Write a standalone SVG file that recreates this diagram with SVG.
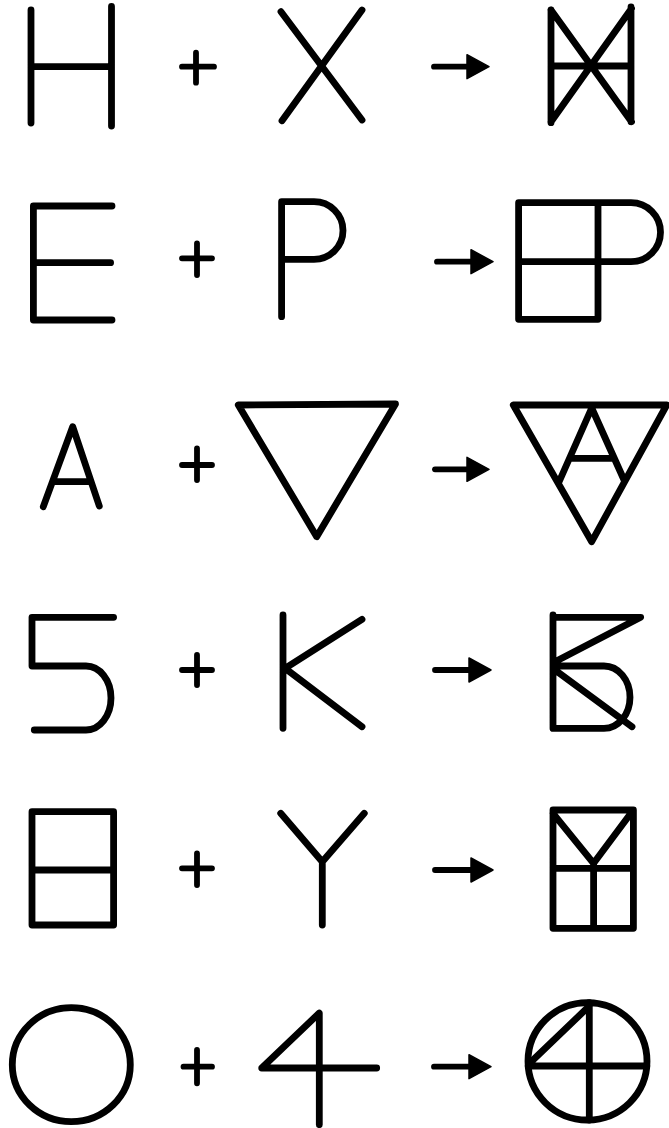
<svg xmlns="http://www.w3.org/2000/svg" width="669" height="1128" viewBox="0 0 669 1128">
<style>
.s{fill:none;stroke:#000;stroke-width:6.8;stroke-linecap:round;stroke-linejoin:round}
.p{fill:none;stroke:#000;stroke-width:5.8;stroke-linecap:round}
.a{fill:none;stroke:#000;stroke-width:5.8;stroke-linecap:round;marker-end:url(#ah)}
</style>
<defs>
<marker id="ah" markerUnits="userSpaceOnUse" markerWidth="24" markerHeight="26" refX="0" refY="12" orient="auto" overflow="visible">
<path d="M0,0 L22,12 L0,24 Z" fill="#000" stroke="#000" stroke-width="1.5" stroke-linejoin="round"/>
</marker>
</defs>
<rect width="669" height="1128" fill="#fff"/>

<g id="row1">
<g id="H"><path class="s" d="M31 10 V123 M111.5 6.5 V126 M31 66.7 H111.5"/></g>
<g id="plus1"><path class="p" d="M182 66.7 H214 M196 52.7 V82.7"/></g>
<g id="X"><path class="s" d="M281 11.7 L362 120 M362 10 L282 120.7"/></g>
<g id="HX"><path class="s" d="M551 10 V122.7 M631 7 V121.7 M551 66 H631 M551 10 L631.5 121.7 M631.5 8.5 L551 121.7"/></g>
</g>

<g id="row2">
<g id="E"><path class="s" d="M112 206 H33.4 V320 H112 M33.4 262.7 H110.6"/></g>
<g id="plus2"><path class="p" d="M182 258.3 H212 M197 243.3 V275"/></g>
<g id="P"><path class="s" d="M281.6 316.7 V201.7 H314 A29 28.8 0 0 1 314 259.3 H281.6"/></g>
<g id="EP"><path class="s" d="M518.6 202.7 H631 A29.5 29.5 0 0 1 631 261.7 H518.6 M518.6 202.7 V319.3 H598 V202.7"/></g>
</g>

<g id="row3">
<g id="A"><path class="s" d="M43.3 506.7 L72.7 426.7 L99.3 506 M53 481.7 H90"/></g>
<g id="plus3"><path class="p" d="M182 465 H212 M197 448.3 V480"/></g>
<g id="triangle"><path class="s" d="M238.3 405 L395.5 404 L316.7 536.7 Z"/></g>
<g id="A-triangle"><path class="s" d="M513.3 405 H666.7 L591.7 541.7 Z M559 482 L591.7 408 L624.5 481 M571 458.3 H612.5"/></g>
</g>

<g id="row4">
<g id="five"><path class="s" d="M113.6 617.3 H32 V666 H86 A25 32 0 0 1 86 730 H34.3"/></g>
<g id="plus4"><path class="p" d="M182 670 H212 M197 655 V685"/></g>
<g id="K"><path class="s" d="M283 615 V728.3 M362 619.3 L285 668.3 M286 669 L362 726.7"/></g>
<g id="five-K"><path class="s" d="M553 615 V728.3 M553 617.3 H640.7 L555 661.7 M553 666 H604 A26 31.2 0 0 1 604 728.4 H553 M555 670 L632 726.7"/></g>
</g>

<g id="row5">
<g id="box"><path class="s" d="M32 811.7 H113.6 V925 H32 Z M32 870 H113.6"/></g>
<g id="plus5"><path class="p" d="M182 868.3 H212 M197 853.3 V885"/></g>
<g id="Y"><path class="s" d="M280.7 813.3 L322.3 861.7 L364.3 813.3 M322.3 861.7 V925"/></g>
<g id="box-Y"><path class="s" d="M553 810 H633.4 V928.3 H553 Z M553 868.3 H633.4 M553 813.3 L593.6 863.3 L632 811.7 M593.6 863.3 V928.3"/></g>
</g>

<g id="row6">
<g id="O"><ellipse class="s" cx="71.3" cy="1064.7" rx="59" ry="57"/></g>
<g id="plus6"><path class="p" d="M183.5 1066.7 H212 M197 1050 V1083.3"/></g>
<g id="four"><path class="s" d="M376.7 1068 H261.7 L319.3 1013 V1124.7"/></g>
<g id="O-four"><ellipse class="s" cx="587.5" cy="1061.3" rx="59.5" ry="58.7"/><path class="s" d="M589.3 1002.6 V1120 M528.2 1066 H646.8 M531.7 1061.3 L589.3 1006"/></g>
</g>

<g id="connectors">
<line class="a" x1="434" y1="66.7" x2="467" y2="66.7"/>
<line class="a" x1="437" y1="261.7" x2="471" y2="261.7"/>
<line class="a" x1="435" y1="469.3" x2="467" y2="469.3"/>
<line class="a" x1="435" y1="670" x2="469" y2="670"/>
<line class="a" x1="435" y1="870" x2="471" y2="870"/>
<line class="a" x1="434" y1="1066.7" x2="469" y2="1066.7"/>
</g>
</svg>
